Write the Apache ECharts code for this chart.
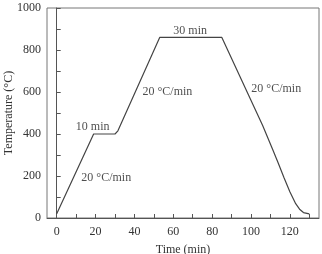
<!DOCTYPE html>
<html>
<head>
<meta charset="utf-8">
<script src="https://cdn.jsdelivr.net/npm/echarts@6/dist/echarts.min.js"></script>
<style>
  html, body { margin: 0; padding: 0; background: #fff; }
  #chart { width: 322px; height: 254px; }
</style>
</head>
<body>
<div id="chart"></div>
<script>
// temperature profile (time in min, temperature in °C)
const times = [0, 19, 30, 31.5, 53, 85, 106, 111, 114, 117, 120, 123, 125, 127, 130];
const temps = [20, 400, 400, 415, 860, 860, 440, 330, 262, 192, 125, 68, 42, 26, 20];

// annotations placed in data space
const noteText = ['10 min', '20 °C/min', '20 °C/min', '30 min', '20 °C/min'];
const noteX = [18.5, 25.5, 57, 68.7, 113];
const noteY = [433, 190, 600, 890, 614];

const xTicks = [0, 10, 20, 30, 40, 50, 60, 70, 80, 90, 100, 110, 120, 130];
const xLabels = [0, 20, 40, 60, 80, 100, 120];
const yTicks = [0, 100, 200, 300, 400, 500, 600, 700, 800, 900, 1000];
const yLabels = [0, 200, 400, 600, 800, 1000];

const font = '"Liberation Serif", "DejaVu Serif", serif';
const axisColor = '#555';
const textColor = '#333';

const chart = echarts.init(document.getElementById('chart'));

chart.setOption({
  animation: false,
  textStyle: { fontFamily: font },
  grid: {
    left: 47, right: 3, top: 8, bottom: 36,
    outerBoundsMode: 'none',
    containLabel: false,
    show: true, borderColor: '#777', borderWidth: 1
  },
  xAxis: {
    type: 'value',
    min: -5,
    max: 135,
    name: 'Time (min)',
    nameLocation: 'middle',
    nameGap: 26,
    nameMoveOverlap: false,
    nameTextStyle: { fontFamily: font, fontSize: 12, color: textColor },
    axisLine: { lineStyle: { color: axisColor } },
    axisTick: { show: true, inside: true, length: 4, customValues: xTicks, lineStyle: { color: axisColor, width: 1 } },
    axisLabel: { customValues: xLabels, fontFamily: font, fontSize: 12, color: textColor, margin: 8 },
    splitLine: { show: false }
  },
  yAxis: {
    type: 'value',
    min: 0,
    max: 1000,
    interval: 200,
    name: 'Temperature (°C)',
    nameLocation: 'middle',
    nameGap: 32,
    nameMoveOverlap: false,
    nameTextStyle: { fontFamily: font, fontSize: 12, color: textColor },
    axisLine: { show: true, lineStyle: { color: axisColor } },
    axisTick: { show: true, inside: true, length: 4, customValues: yTicks, lineStyle: { color: axisColor, width: 1 } },
    axisLabel: { customValues: yLabels, formatter: v => String(v), fontFamily: font, fontSize: 12, color: textColor, margin: 6 },
    splitLine: { show: false }
  },
  series: [
    {
      type: 'line',
      data: times.map((t, i) => [t, temps[i]]),
      symbol: 'none',
      lineStyle: { color: '#444', width: 1.2 }
    },
    {
      type: 'scatter',
      data: noteX.map((x, i) => [x, noteY[i], noteText[i]]),
      symbolSize: 0,
      silent: true,
      label: {
        show: true,
        position: 'inside',
        formatter: p => p.data[2],
        fontFamily: font,
        fontSize: 12,
        color: '#222'
      }
    }
  ]
});
</script>
</body>
</html>
